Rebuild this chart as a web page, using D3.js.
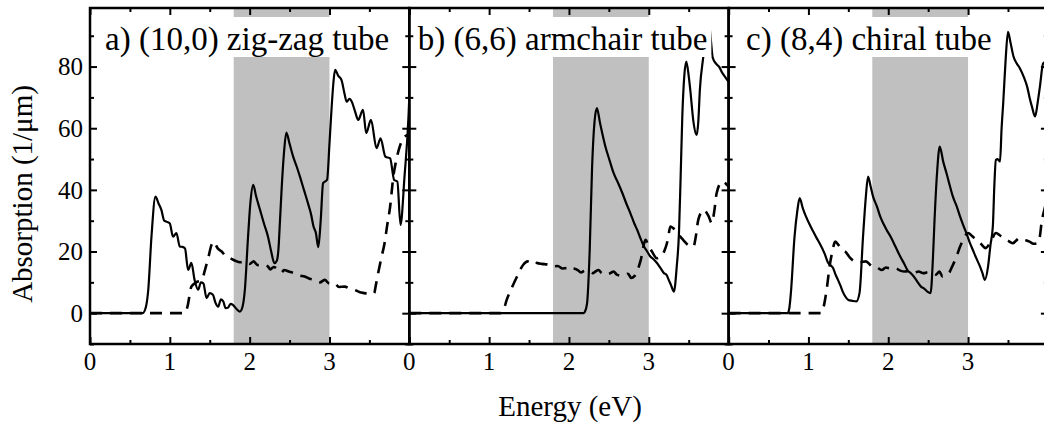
<!DOCTYPE html>
<html lang="en">
<head>
    <meta charset="UTF-8">
    <title>Nanotube absorption panels</title>
    <script src="https://d3js.org/d3.v7.min.js"></script>
    <style>
        body { margin: 0; background: #fff; }
    </style>
</head>
<body>
<div id="chart"></div>
<script>
    // ---- data: [energy (eV), absorption (1/um)] ----
    var panelTitles = ["a) (10,0) zig-zag tube", "b) (6,6) armchair tube", "c) (8,4) chiral tube"];
    var xTicks = [0, 1, 2, 3];
    var yTicks = [0, 20, 40, 60, 80];
    var shadeRange = [1.8, 3.0];

    var zigzagSolid = [[0,0],[0.66,0],[0.7,2],[0.73,7.6],[0.77,24.8],[0.82,37.8],[0.86,35.5],[0.894,33.5],[0.93,30],[0.957,29.7],[1.0,29.1],[1.04,24.8],[1.083,26],[1.125,21.6],[1.16,21.5],[1.19,21],[1.229,14],[1.27,16.3],[1.31,10.8],[1.355,7.6],[1.39,10],[1.42,9.7],[1.46,4.9],[1.5,6.5],[1.54,6],[1.57,3.5],[1.606,2.1],[1.64,4.5],[1.67,3.8],[1.7,1.6],[1.73,1.8],[1.76,3],[1.79,2.7],[1.83,1.5],[1.877,0.5],[1.91,2],[1.94,7.6],[1.98,24.8],[2.01,36],[2.045,41.6],[2.08,38],[2.13,33.5],[2.18,29],[2.23,24.8],[2.27,20],[2.31,16.2],[2.34,17],[2.36,20.5],[2.38,30],[2.4,40],[2.43,52],[2.46,58.6],[2.5,55],[2.545,50.8],[2.59,47.5],[2.63,44.3],[2.68,40],[2.73,35.7],[2.77,32],[2.8,28.1],[2.83,26],[2.86,21.4],[2.89,30],[2.92,42.2],[2.97,43.3],[3.0,55],[3.02,63.8],[3.05,75],[3.07,78.9],[3.11,77],[3.15,75.7],[3.19,71],[3.215,68.6],[3.25,69.5],[3.28,68.6],[3.32,65.5],[3.36,62.7],[3.42,66],[3.46,58.4],[3.52,62.7],[3.59,53.5],[3.64,56.7],[3.7,50.8],[3.76,50.2],[3.81,43.2],[3.85,42.7],[3.89,28.6],[3.94,44.3],[3.99,63.8],[4.0,70]];
    var zigzagDashed = [[0,0],[1.19,0],[1.22,2],[1.27,8.6],[1.33,10],[1.4,10.8],[1.44,14],[1.48,17.8],[1.52,22],[1.55,23.2],[1.6,21],[1.65,20],[1.7,18.5],[1.76,17.8],[1.82,17],[1.88,16.5],[1.94,16.8],[2.0,16],[2.05,16.8],[2.1,15.6],[2.17,15.7],[2.23,15.1],[2.26,14.2],[2.3,15],[2.36,14],[2.4,13.2],[2.43,14],[2.5,13.4],[2.56,13],[2.62,12.2],[2.69,11.9],[2.75,11.2],[2.81,10.8],[2.88,10],[2.94,10.8],[3.0,9.6],[3.06,9.7],[3.12,8.5],[3.19,8.6],[3.25,8],[3.31,7.6],[3.38,6.8],[3.44,6.5],[3.5,6.2],[3.56,6.5],[3.58,9],[3.61,13],[3.65,18],[3.69,22.7],[3.72,28],[3.76,34.6],[3.8,44.3],[3.84,50],[3.88,54],[3.93,57],[4.0,58]];

    var armchairSolid = [[0,0],[2.18,0],[2.2,0.5],[2.227,3.2],[2.26,20.5],[2.29,47.5],[2.32,62],[2.35,66.5],[2.39,61.6],[2.457,54],[2.51,49.5],[2.56,45.4],[2.62,42],[2.67,38.9],[2.72,35.5],[2.77,32.4],[2.82,29],[2.855,27],[2.9,24],[2.94,21.6],[2.98,20],[3.02,18.4],[3.06,17.5],[3.105,16.2],[3.15,14.5],[3.19,13],[3.22,12.5],[3.25,10.8],[3.28,9],[3.315,7],[3.35,15],[3.378,25.9],[3.4,45],[3.42,63.8],[3.445,77],[3.47,81.6],[3.5,77],[3.52,72.4],[3.56,62],[3.6,57.8],[3.62,62],[3.64,72.4],[3.69,85],[3.72,95],[3.75,95],[3.78,88],[3.8,83],[3.84,81],[3.88,80],[3.92,78],[3.96,76.5],[4.0,75]];
    var armchairDashed = [[0,0],[1.14,0],[1.18,1],[1.22,4.3],[1.28,8],[1.35,11.9],[1.43,15.8],[1.48,16.8],[1.52,16.5],[1.56,17],[1.6,16.3],[1.66,16],[1.73,15.8],[1.77,15.5],[1.8,15.1],[1.86,15.3],[1.92,14.5],[1.97,14.6],[2.02,14],[2.05,14.5],[2.11,14],[2.15,13.2],[2.2,13.8],[2.25,13.5],[2.3,13],[2.33,13.5],[2.37,14],[2.41,13],[2.46,12.5],[2.52,13],[2.56,13.5],[2.6,12.5],[2.65,12.2],[2.7,12.4],[2.74,12.8],[2.78,11.4],[2.82,12],[2.86,14],[2.9,17.3],[2.96,23.8],[3.0,21.5],[3.04,20],[3.1,17.8],[3.15,18.5],[3.2,20.5],[3.24,24],[3.27,28.1],[3.31,27.5],[3.35,26.5],[3.39,25],[3.43,23.8],[3.5,22],[3.56,21.6],[3.59,25],[3.62,30.3],[3.69,33.5],[3.75,31.4],[3.79,29.2],[3.82,33],[3.85,38.9],[3.92,42.7],[3.98,41.6],[4.0,41]];

    var chiralSolid = [[0,0],[0.74,0],[0.76,1.5],[0.78,6.5],[0.826,24.8],[0.86,33],[0.89,37.3],[0.93,34],[0.97,31.3],[1.02,28.5],[1.06,26.5],[1.1,24.5],[1.14,22.7],[1.2,19.5],[1.25,16.2],[1.28,15.5],[1.31,14.6],[1.34,12.5],[1.37,10.8],[1.4,9],[1.43,7],[1.46,5.5],[1.5,4.3],[1.55,4],[1.6,3.8],[1.64,6.5],[1.684,24.8],[1.72,38],[1.747,44.3],[1.78,41],[1.81,37.8],[1.86,34.5],[1.9,31.3],[1.94,29],[1.98,27],[2.03,24.8],[2.07,22.7],[2.11,20.5],[2.15,18.4],[2.2,16],[2.24,14],[2.28,13],[2.32,11.9],[2.37,10],[2.41,8.6],[2.45,8],[2.49,7],[2.53,6.5],[2.56,18],[2.58,30.3],[2.61,45],[2.645,54],[2.69,49],[2.73,45.4],[2.77,41.5],[2.81,37.8],[2.86,34.5],[2.9,31.3],[2.94,28.5],[2.98,25.9],[3.02,23],[3.06,20.5],[3.1,18],[3.15,15.1],[3.18,13],[3.21,10.8],[3.25,15.1],[3.28,22],[3.31,28.1],[3.33,42],[3.348,49.7],[3.37,50],[3.4,49.2],[3.42,60],[3.44,68.1],[3.47,82],[3.5,91.3],[3.53,88],[3.57,83.2],[3.61,81],[3.65,79.4],[3.7,76.5],[3.74,73.5],[3.77,70],[3.8,67],[3.84,63.8],[3.87,68],[3.9,73.5],[3.94,81],[3.97,81.5],[4.0,80]];
    var chiralDashed = [[0,0],[1.16,0],[1.19,2],[1.23,8],[1.27,16],[1.3,20],[1.335,23.2],[1.38,22],[1.42,20.5],[1.46,20],[1.52,18],[1.58,16.8],[1.65,16.5],[1.72,16.8],[1.78,15.5],[1.8,15.1],[1.86,14.8],[1.92,14],[1.97,14.8],[2.03,14.5],[2.09,14.6],[2.15,13.8],[2.21,13.5],[2.28,13.8],[2.33,13.2],[2.38,13.5],[2.44,13],[2.5,13.3],[2.55,13],[2.6,12.5],[2.64,13.5],[2.68,11.9],[2.72,12.5],[2.76,13],[2.8,15.1],[2.85,18],[2.9,21.6],[2.95,24.5],[3.0,26],[3.05,25],[3.1,23.8],[3.16,22.5],[3.22,21.1],[3.28,23],[3.35,26],[3.4,25.2],[3.45,24.3],[3.5,23.5],[3.56,22.7],[3.6,23.5],[3.64,24.3],[3.7,23.8],[3.77,23.2],[3.82,22.5],[3.87,22.7],[3.9,25],[3.92,29.2],[3.96,34],[4.0,38]];

    var panels = [
        { title: panelTitles[0], solid: zigzagSolid, dashed: zigzagDashed, titleDx: 15 },
        { title: panelTitles[1], solid: armchairSolid, dashed: armchairDashed, titleDx: 8.5 },
        { title: panelTitles[2], solid: chiralSolid, dashed: chiralDashed, titleDx: 17.5 }
    ];

    // ---- layout ----
    var W = 1044, H = 426;
    var marginLeft = 90, marginTop = 8;
    var panelW = 319.3, panelH = 336;
    var serif = "'Liberation Serif', 'DejaVu Serif', serif";

    var svg = d3.select("#chart").append("svg")
        .attr("width", W)
        .attr("height", H)
        .attr("font-family", serif);

    var x = d3.scaleLinear().domain([0, 4]).range([0, panelW]);
    var y = d3.scaleLinear().domain([-10, 99]).range([panelH, 0]);

    var line = d3.line()
        .x(function (d) { return x(d[0]); })
        .y(function (d) { return y(d[1]); })
        .curve(d3.curveMonotoneX);

    panels.forEach(function (p, i) {
        var g = svg.append("g")
            .attr("transform", "translate(" + (marginLeft + i * panelW) + "," + marginTop + ")");

        g.append("clipPath").attr("id", "clip" + i)
            .append("rect").attr("width", panelW).attr("height", panelH);

        // shaded visible range
        g.append("rect")
            .attr("x", x(shadeRange[0]))
            .attr("width", x(shadeRange[1]) - x(shadeRange[0]))
            .attr("y", 0)
            .attr("height", panelH)
            .attr("fill", "#c0c0c0");

        var curves = g.append("g").attr("clip-path", "url(#clip" + i + ")");
        curves.append("path")
            .attr("d", line(p.dashed))
            .attr("fill", "none")
            .attr("stroke", "#000")
            .attr("stroke-width", 2.6)
            .attr("stroke-dasharray", "12,8");
        curves.append("path")
            .attr("d", line(p.solid))
            .attr("fill", "none")
            .attr("stroke", "#000")
            .attr("stroke-width", 2.2)
            .attr("stroke-linejoin", "round");

        // panel title on a white box
        var label = g.append("text")
            .attr("x", p.titleDx)
            .attr("y", 42)
            .attr("font-family", serif)
            .style("font-size", "33px")
            .text(p.title);
        var bb = label.node().getBBox();
        g.insert("rect", "text")
            .attr("x", bb.x - 4)
            .attr("y", 9)
            .attr("width", bb.width + 8)
            .attr("height", 40)
            .attr("fill", "#fff");

        // axes: ticks on all four sides, pointing inward
        var ax = function (axis, tx, ty, size, vals) {
            var a = g.append("g")
                .attr("transform", "translate(" + tx + "," + ty + ")")
                .call(axis.tickValues(vals).tickSize(size).tickFormat(""));
            a.select(".domain").remove();
            a.selectAll("line").attr("stroke", "#000").attr("stroke-width", 2);
        };
        var xMajor = [0, 1, 2, 3, 4], xMinor = [0.5, 1.5, 2.5, 3.5];
        var yMajor = yTicks, yMinor = [-10, 10, 30, 50, 70, 90];
        ax(d3.axisTop(x), 0, panelH, 7, xMajor);
        ax(d3.axisTop(x), 0, panelH, 4, xMinor);
        ax(d3.axisBottom(x), 0, 0, 7, xMajor);
        ax(d3.axisBottom(x), 0, 0, 4, xMinor);
        ax(d3.axisRight(y), 0, 0, 7, yMajor);
        ax(d3.axisRight(y), 0, 0, 4, yMinor);
        ax(d3.axisLeft(y), panelW, 0, 7, yMajor);
        ax(d3.axisLeft(y), panelW, 0, 4, yMinor);

        g.append("rect")
            .attr("width", panelW)
            .attr("height", panelH)
            .attr("fill", "none")
            .attr("stroke", "#000")
            .attr("stroke-width", 2.5);

        // x tick labels
        g.selectAll(".xl")
            .data(xTicks)
            .enter()
            .append("text")
            .attr("x", function (d) { return x(d); })
            .attr("y", panelH + 26)
            .attr("text-anchor", "middle")
            .attr("font-family", serif)
            .style("font-size", "25px")
            .text(function (d) { return d; });

        // y tick labels only on first panel
        if (i === 0) {
            g.selectAll(".yl")
                .data(yTicks)
                .enter()
                .append("text")
                .attr("x", -7)
                .attr("y", function (d) { return y(d); })
                .attr("dy", "0.35em")
                .attr("text-anchor", "end")
                .attr("font-family", serif)
                .style("font-size", "25px")
                .text(function (d) { return d; });
        }
    });

    // axis titles
    svg.append("text")
        .attr("x", 570)
        .attr("y", 416)
        .attr("text-anchor", "middle")
        .attr("font-family", serif)
        .style("font-size", "29px")
        .text("Energy (eV)");

    svg.append("text")
        .attr("transform", "translate(32,194) rotate(-90)")
        .attr("text-anchor", "middle")
        .attr("font-family", serif)
        .style("font-size", "29px")
        .text("Absorption (1/\u03bcm)");
</script>
</body>
</html>
